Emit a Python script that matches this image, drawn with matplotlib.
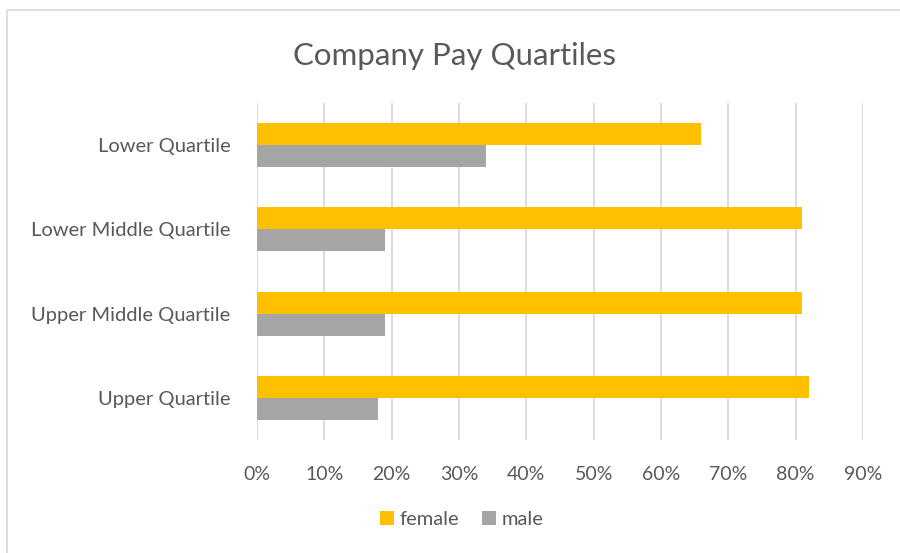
import matplotlib.pyplot as plt
import numpy as np
from matplotlib.patches import Rectangle
from matplotlib.ticker import FuncFormatter

categorias = ['Lower Quartile', 'Lower Middle Quartile', 'Upper Middle Quartile', 'Upper Quartile']
female = [66, 81, 81, 82]
male = [34, 19, 19, 18]

corTexto = '#595959'
plt.rcParams['font.family'] = ['Lato', 'DejaVu Sans']

fig = plt.figure(figsize=(9, 5.53), dpi=100)
ax = fig.add_axes([0.2856, 0.2043, 0.6733, 0.6094])

# moldura do grafico
fig.patches.append(Rectangle((7/900, -0.05), 1.2, 1 - 10/553 + 0.05, transform=fig.transFigure,
                             fill=False, edgecolor='#D9D9D9', linewidth=1.2))

y = np.arange(len(categorias))
h = 0.26
ax.barh(y - h/2, female, height=h, color='#FFC000', label='female', zorder=3)
ax.barh(y + h/2, male, height=h, color='#A5A5A5', label='male', zorder=3)

ax.set_xlim(0, 90)
ax.set_ylim(3.5, -0.5)
ax.set_xticks(range(0, 91, 10))
ax.xaxis.set_major_formatter(FuncFormatter(lambda v, p: f'{int(v)}%'))
ax.set_yticks(y)
ax.set_yticklabels(categorias)
ax.grid(True, axis='x', color='#D9D9D9', linewidth=1.3, zorder=0)
ax.tick_params(length=0, labelsize=14.5, colors=corTexto)
ax.tick_params(axis='x', pad=19)
ax.tick_params(axis='y', pad=19)
ax.set_xticklabels([f'{v}%' for v in range(0, 91, 10)], fontsize=14)
for s in ax.spines.values():
    s.set_visible(False)

fig.text(0.505, 0.898, 'Company Pay Quartiles', ha='center', va='center', fontsize=22.5, color=corTexto)

fig.legend(loc='center', bbox_to_anchor=(0.513, 0.06), ncol=2, frameon=False, fontsize=14.5,
           labelcolor=corTexto, handlelength=0.7, handleheight=0.7, handletextpad=0.3, columnspacing=1.1)

fig.savefig('out.png', dpi=100, facecolor='white')
